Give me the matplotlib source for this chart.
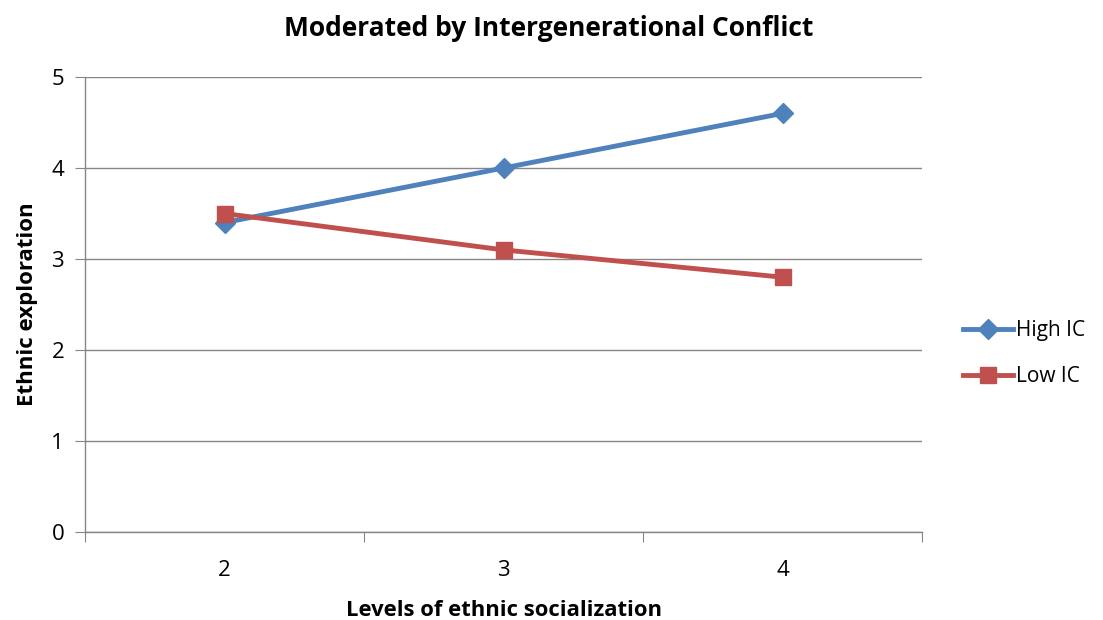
import matplotlib
matplotlib.use("Agg")
import matplotlib.pyplot as plt
from matplotlib.ticker import FixedLocator, NullFormatter

plt.rcParams['font.family'] = ['Open Sans', 'DejaVu Sans']

categories = [2, 3, 4]
high_ic = [3.4, 4.0, 4.6]
low_ic = [3.5, 3.1, 2.8]
y_ticks = [0, 1, 2, 3, 4, 5]

fig = plt.figure(figsize=(11.03, 6.2), dpi=100)
ax = fig.add_axes([85/1103, 88/620, (922-85)/1103, (532-77)/620])

x = list(range(len(categories)))
ax.plot(x, high_ic, color='#4F81BD', lw=3.5, marker='D', ms=10, label='High IC', zorder=3)
ax.plot(x, low_ic, color='#C0504D', lw=3.5, marker='s', ms=12, label='Low IC', zorder=4)

ax.set_xlim(-0.5, len(categories) - 0.5)
ax.set_ylim(0, 5)
ax.set_yticks(y_ticks)
ax.yaxis.grid(True, color='#868686', lw=1)
ax.set_axisbelow(True)
for s in ['top', 'right']:
    ax.spines[s].set_visible(False)
for s in ['left', 'bottom']:
    ax.spines[s].set_color('#868686')
    ax.spines[s].set_linewidth(1)

ax.xaxis.set_major_locator(FixedLocator([i - 0.5 for i in range(len(categories) + 1)]))
ax.xaxis.set_major_formatter(NullFormatter())
ax.xaxis.set_minor_locator(FixedLocator(x))
ax.set_xticklabels([str(c) for c in categories], minor=True)
ax.tick_params(axis='x', which='major', length=7, color='#868686', direction='out')
ax.tick_params(axis='x', which='minor', length=0, pad=20, labelsize=16)
ax.tick_params(axis='y', length=7, color='#868686', labelsize=16, pad=8)

ax.set_xlabel('Levels of ethnic socialization', fontsize=15.8, fontweight='bold', labelpad=14)
ax.set_ylabel('Ethnic exploration', fontsize=16, fontweight='bold', labelpad=10)
fig.suptitle('Moderated by Intergenerational Conflict', fontsize=19, fontweight='bold', x=549/1103, y=0.975, va='top')

leg = fig.legend(handles=ax.get_lines(), loc='center left', bbox_to_anchor=(944/1103, 1 - 353.5/620),
                 frameon=False, fontsize=15, handlelength=2.4, handletextpad=0.15, labelspacing=1.2)

fig.savefig('out.png', dpi=100)
